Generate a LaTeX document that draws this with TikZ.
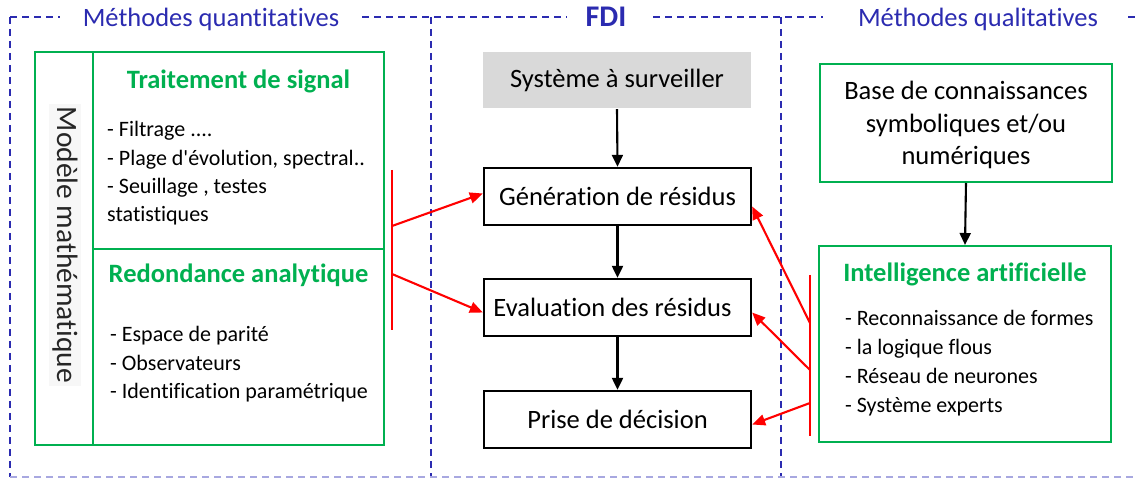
\documentclass[tikz,border=0pt]{standalone}
\usepackage{fontspec}
\setmainfont{Carlito}[Ligatures=NoCommon]
\usetikzlibrary{arrows.meta,calc}
\definecolor{frameblue}{HTML}{2B2BB0}
\definecolor{okgreen}{HTML}{00B050}
\definecolor{lavender}{HTML}{A8A8E0}
\definecolor{boxgray}{HTML}{D9D9D9}
\begin{document}
\begin{tikzpicture}[x=1pt,y=-1pt,
  frame/.style={frameblue, line width=1.4pt, dash pattern=on 7pt off 5pt},
  gbox/.style={draw=okgreen, line width=2pt},
  stepbox/.style={draw=black, line width=2.3pt, minimum width=267pt, minimum height=57pt,
    inner sep=0pt, font=\fontsize{26.5}{30}\selectfont},
  sectitle/.style={text=frameblue, font=\fontsize{26.5}{30}\selectfont, anchor=base},
  gtitle/.style={text=okgreen, font=\fontsize{26.5}{30}\selectfont\bfseries, anchor=base},
  item/.style={font=\fontsize{22}{26}\selectfont, anchor=base west, inner sep=0pt},
  body/.style={font=\fontsize{26.5}{30}\selectfont, anchor=base, inner sep=0pt},
  flow/.style={-{Triangle[length=12pt,width=11pt]}, line width=2.1pt},
  feed/.style={red, -{Triangle[length=13pt,width=11pt]}, line width=2.1pt},
  bracket/.style={red, line width=2pt}]
\useasboundingbox (0,0) rectangle (1136,478);

% dashed frames of the three columns
\draw[frame] (10,17) -- (60,17);
\draw[frame] (362,17) -- (567,17);
\draw[frame] (653,17) -- (823,17);
\draw[frame] (1128,17) -- (1136,17);
\draw[frame] (10,17) -- (10,477);
\draw[frame] (431,17) -- (431,477);
\draw[frame] (781,17) -- (781,477);
\draw[lavender, line width=1.3pt, dash pattern=on 7pt off 5pt] (10,477) -- (1136,477);

% column headings
\node[sectitle] (tquant) at (211,27) {Méthodes quantitatives};
\node[sectitle, font=\fontsize{30}{34}\selectfont\bfseries] (tfdi) at (606,27) {FDI};
\node[sectitle] (tqual) at (978,27) {Méthodes qualitatives};

% quantitative methods block
\draw[gbox] (35,52) rectangle (384,445);
\draw[gbox] (93,52) -- (93,445);
\draw[gbox] (93,249) -- (384,249);
\node[rotate=-90, fill=black!3, inner sep=3pt, text=black!85,
      font=\fontsize{29.5}{33}\selectfont] (modele) at (65,245) {Modèle mathématique};

\node[gtitle] (tsig) at (238.5,89) {Traitement de signal};
\node[item] (sig1) at (107,137) {- Filtrage ....};
\node[item] (sig2) at (107,165.3) {- Plage d\textquotesingle évolution, spectral..};
\node[item] (sig3) at (107,193.6) {- Seuillage , testes};
\node[item] (sig4) at (107,221.9) {statistiques};

\node[gtitle] (tred) at (238.5,283) {Redondance analytique};
\node[item] (red1) at (110,342) {- Espace de parité};
\node[item] (red2) at (110,370.5) {- Observateurs};
\node[item] (red3) at (110,399) {- Identification paramétrique};

% FDI chain
\node[stepbox, draw=none, fill=boxgray, minimum width=268pt, minimum height=56pt] (sys) at (617,80) {Système à surveiller};
\node[stepbox] (gen) at (617.5,196.5) {Génération de résidus};
\node[stepbox] (eval) at (617.5,307.5) {\hspace*{-10pt}Evaluation des résidus};
\node[stepbox] (dec) at (617.5,419.5) {Prise de décision};

\draw[flow] (sys.south) -- (gen.north);
\draw[flow] (gen.south) -- (eval.north);
\draw[flow] (eval.south) -- (dec.north);

% qualitative methods block
\node[gbox, minimum width=292pt, minimum height=118pt] (base) at (966,123) {};
\node[body] (base1) at (966,100) {Base de connaissances};
\node[body] (base2) at (966,132.5) {symboliques et/ou};
\node[body] (base3) at (966,165) {numériques};

\node[gbox, minimum width=292pt, minimum height=196pt] (ia) at (965,344) {};
\node[gtitle] (tia) at (965,282) {Intelligence artificielle};
\node[item] (ia1) at (845,326) {- Reconnaissance de formes};
\node[item] (ia2) at (845,354.7) {- la logique flous};
\node[item] (ia3) at (845,383.4) {- Réseau de neurones};
\node[item] (ia4) at (845,412.1) {- Système experts};

\draw[flow] (base.south) -- (ia.north);

% feeds from the quantitative methods
\coordinate (lb1) at (392,170);
\coordinate (lb2) at (392,330);
\coordinate (lg) at (392,226);
\coordinate (le) at (392,274);
\draw[bracket] (lb1) -- (lb2);
\draw[feed] (lg) -- ($(gen.west)+(0,-3)$);
\draw[feed] (le) -- ($(eval.west)+(0,5)$);

% feeds from the qualitative methods
\coordinate (rb1) at (810,275);
\coordinate (rb2) at (810,436);
\coordinate (rg) at (810,323);
\coordinate (re) at (810,370);
\coordinate (rd) at (810,403);
\draw[bracket] (rb1) -- (rb2);
\draw[feed] (rg) -- ($(gen.east)+(0,10)$);
\draw[feed] (re) -- ($(eval.east)+(0,5)$);
\draw[feed] (rd) -- ($(dec.east)+(0,5)$);
\end{tikzpicture}
\end{document}
